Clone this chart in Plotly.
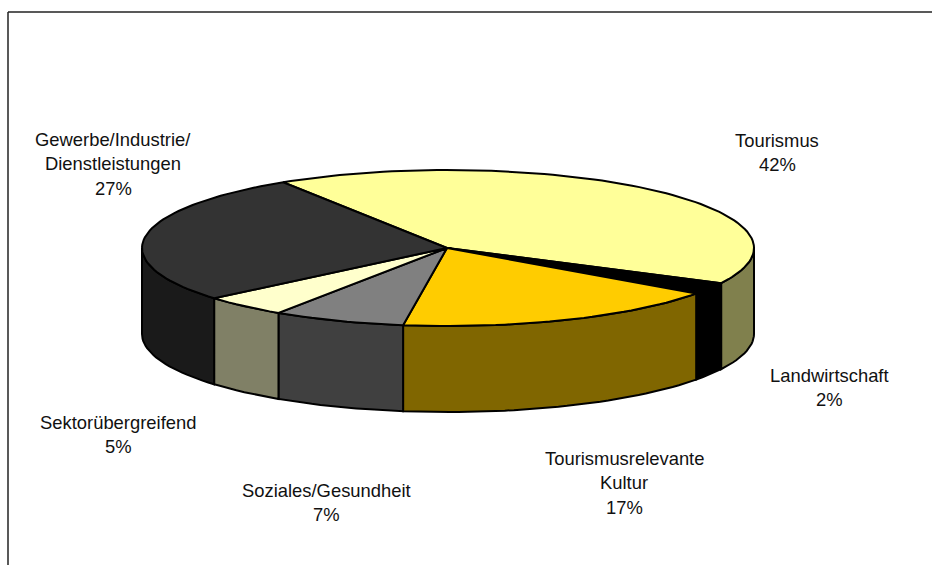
import numpy as np
import plotly.graph_objects as go

# --- data -------------------------------------------------------------
categories = ["Tourismus", "Landwirtschaft", "Tourismusrelevante Kultur",
              "Soziales/Gesundheit", "Sektorübergreifend",
              "Gewerbe/Industrie/Dienstleistungen"]
# unrounded shares estimated from the slice edges; they round to the printed labels
values = [41.5, 2.5, 17.4, 7.0, 4.5, 27.1]
label_lines = [["Tourismus", "42%"],
               ["Landwirtschaft", "2%"],
               ["Tourismusrelevante", "Kultur", "17%"],
               ["Soziales/Gesundheit", "7%"],
               ["Sektorübergreifend", "5%"],
               ["Gewerbe/Industrie/", "Dienstleistungen", "27%"]]
top_colors = ["#FFFF99", "#000000", "#FFCC00", "#808080", "#FFFFCC", "#333333"]
side_colors = ["#80804D", "#000000", "#806600", "#404040", "#808066", "#1A1A1A"]

# --- layout of the drawing --------------------------------------------
W, H = 932, 565
CX, CY, RX, RY, DEPTH = 448, 248, 306, 78, 86
START = -32.6
label_centers = [(777, 140), (829, 375), (624, 458), (326, 490), (118, 422), (113, 139)]
LINE_PITCH = 24.5
FONT = dict(family="Liberation Sans, Arial, sans-serif", size=18.4, color="#111111")


def rim(t_deg):
    t = np.radians(t_deg)
    return CX + RX * np.sin(t), CY - RY * np.cos(t)


def arc(a, b):
    return np.linspace(a, b, max(2, int(abs(b - a) * 0.6)))


shares = np.array(values, dtype=float) / sum(values) * 360
edges = START + np.concatenate([[0], np.cumsum(shares)])

fig = go.Figure()

# side walls: only the part of the rim facing the viewer (90..270 degrees)
for i, name in enumerate(categories):
    a, b = max(edges[i], 90), min(edges[i + 1], 270)
    if a >= b:
        continue
    x, y = rim(arc(a, b))
    fx = np.concatenate([x, x[::-1], x[:1]])
    fy = np.concatenate([y, y[::-1] + DEPTH, y[:1]])
    fig.add_trace(go.Scatter(x=fx, y=fy, mode="lines", fill="toself",
                             fillcolor=side_colors[i], name=name, showlegend=False,
                             line=dict(color="#000000", width=2), hoverinfo="name"))

# top faces
for i, name in enumerate(categories):
    x, y = rim(arc(edges[i], edges[i + 1]))
    fx = np.concatenate([[CX - 1], x, [CX - 1]])
    fy = np.concatenate([[CY], y, [CY]])
    fig.add_trace(go.Scatter(x=fx, y=fy, mode="lines", fill="toself",
                             fillcolor=top_colors[i], name=name, showlegend=False,
                             line=dict(color="#000000", width=2), hoverinfo="name"))

# labels, one annotation per line to keep the wide line pitch
for lines, (lx, ly) in zip(label_lines, label_centers):
    for k, text in enumerate(lines):
        fig.add_annotation(x=lx, y=ly + k * LINE_PITCH, text=text, showarrow=False,
                           xanchor="center", yanchor="middle", font=FONT)

# chart frame: only top and left edges are visible in the crop
frame = dict(color="#222222", width=1.5)
fig.add_shape(type="line", x0=8, x1=W, y0=12, y1=12, line=frame)
fig.add_shape(type="line", x0=8, x1=8, y0=12, y1=H, line=frame)

fig.update_xaxes(range=[0, W], visible=False, fixedrange=True)
fig.update_yaxes(range=[H, 0], visible=False, fixedrange=True)
fig.update_layout(width=W, height=H, margin=dict(l=0, r=0, t=0, b=0),
                  paper_bgcolor="#FFFFFF", plot_bgcolor="#FFFFFF", showlegend=False)

fig.write_html("out.html", config=dict(displayModeBar=False),
               post_script="document.body.style.margin='0';document.body.style.overflow='hidden';")
